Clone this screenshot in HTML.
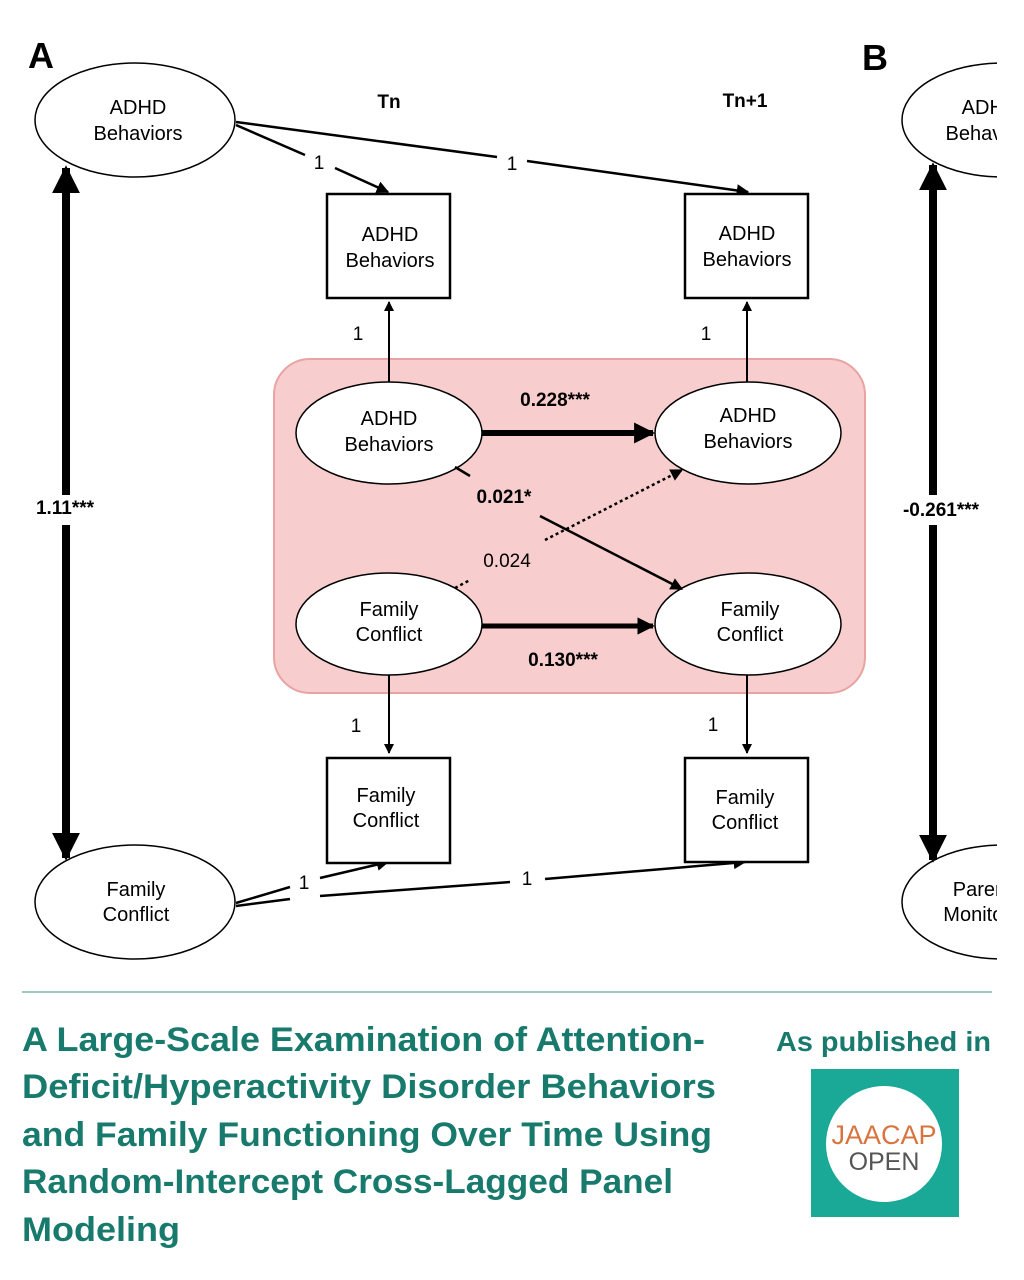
<!DOCTYPE html>
<html><head><meta charset="utf-8"><style>
html,body{margin:0;padding:0;background:#fff;width:1024px;height:1280px;overflow:hidden}
svg text{font-family:"Liberation Sans",Arial,sans-serif}
</style></head><body>
<svg width="1024" height="1280" viewBox="0 0 1024 1280" xmlns="http://www.w3.org/2000/svg">
<defs>
<marker id="b" viewBox="0 0 10 10" refX="9" refY="5" markerWidth="3.5" markerHeight="3.5" orient="auto" markerUnits="strokeWidth"><path d="M0,0 L10,5 L0,10 z" fill="#000"/></marker>
<marker id="c" viewBox="0 0 10 10" refX="9" refY="5" markerWidth="5" markerHeight="5" orient="auto" markerUnits="strokeWidth"><path d="M0,0 L10,5 L0,10 z" fill="#000"/></marker>
<clipPath id="clip"><rect x="0" y="0" width="997" height="980"/></clipPath>
</defs>
<g clip-path="url(#clip)" stroke="#000" fill="none">
<text x="28" y="68" font-size="36" font-weight="bold" fill="#000" stroke="none">A</text>
<text x="862" y="70" font-size="36" font-weight="bold" fill="#000" stroke="none">B</text>
<text x="389" y="108" font-size="19" font-weight="bold" text-anchor="middle" fill="#000" stroke="none">Tn</text>
<text x="745" y="107" font-size="19" font-weight="bold" text-anchor="middle" fill="#000" stroke="none">Tn+1</text>

<rect x="274" y="359" width="591" height="334" rx="36" fill="#f7cdcd" stroke="#e9a3a3" stroke-width="2"/>

<ellipse cx="135" cy="120" rx="100" ry="57" stroke-width="1.5" fill="#fff"/>
<ellipse cx="135" cy="902" rx="100" ry="57" stroke-width="1.5" fill="#fff"/>
<ellipse cx="1002" cy="120" rx="100" ry="57" stroke-width="1.5" fill="#fff"/>
<ellipse cx="1002" cy="902" rx="100" ry="57" stroke-width="1.5" fill="#fff"/>

<path d="M236,125 L305,155" stroke-width="2.5"/>
<path d="M335,168 L388,192" stroke-width="2.5" marker-end="url(#c)"/>
<path d="M236,122 L497,157" stroke-width="2.5"/>
<path d="M527,161 L748,192" stroke-width="2.5" marker-end="url(#c)"/>
<path d="M236,903 L290,887" stroke-width="2.5"/>
<path d="M320,878 L388,862" stroke-width="2.5" marker-end="url(#c)"/>
<path d="M236,906 L290,899" stroke-width="2.5"/>
<path d="M320,896 L510,882" stroke-width="2.5"/>
<path d="M545,879 L745,862" stroke-width="2.5" marker-end="url(#c)"/>

<rect x="327" y="194" width="123" height="104" stroke-width="2.5" fill="#fff"/>
<rect x="685" y="194" width="123" height="104" stroke-width="2.5" fill="#fff"/>
<rect x="327" y="758" width="123" height="105" stroke-width="2.5" fill="#fff"/>
<rect x="685" y="758" width="123" height="104" stroke-width="2.5" fill="#fff"/>

<path d="M389,383 L389,302" stroke-width="2" marker-end="url(#c)"/>
<path d="M747,383 L747,302" stroke-width="2" marker-end="url(#c)"/>
<path d="M389,672 L389,753" stroke-width="2" marker-end="url(#c)"/>
<path d="M747,672 L747,753" stroke-width="2" marker-end="url(#c)"/>

<path d="M66,495 L66,168" stroke-width="8" marker-end="url(#b)"/>
<path d="M66,525 L66,858" stroke-width="8" marker-end="url(#b)"/>
<path d="M933,495 L933,165" stroke-width="8" marker-end="url(#b)"/>
<path d="M933,525 L933,860" stroke-width="8" marker-end="url(#b)"/>

<ellipse cx="389" cy="433" rx="93" ry="51" stroke-width="1.5" fill="#fff"/>
<ellipse cx="748" cy="433" rx="93" ry="51" stroke-width="1.5" fill="#fff"/>
<ellipse cx="389" cy="624" rx="93" ry="51" stroke-width="1.5" fill="#fff"/>
<ellipse cx="748" cy="624" rx="93" ry="51" stroke-width="1.5" fill="#fff"/>

<path d="M482,433 L653,433" stroke-width="6" marker-end="url(#b)"/>
<path d="M482,626 L653,626" stroke-width="5" marker-end="url(#b)"/>
<path d="M455,467 L470,476" stroke-width="2.5"/>
<path d="M540,516 L682,589" stroke-width="2.5" marker-end="url(#c)"/>
<path d="M455,588 L470,580" stroke-width="2.5" stroke-dasharray="3,3"/>
<path d="M545,540 L682,470" stroke-width="2.5" stroke-dasharray="3,3" marker-end="url(#c)"/>
</g>

<g font-size="20" fill="#000" text-anchor="middle">
<text x="138" y="114">ADHD</text><text x="138" y="140">Behaviors</text>
<text x="136" y="896">Family</text><text x="136" y="921">Conflict</text>
<text x="990" y="114">ADHD</text><text x="990" y="140">Behaviors</text>
<text x="990" y="896">Parental</text><text x="990" y="921">Monitoring</text>
<text x="390" y="241">ADHD</text><text x="390" y="267">Behaviors</text>
<text x="747" y="240">ADHD</text><text x="747" y="266">Behaviors</text>
<text x="386" y="802">Family</text><text x="386" y="827">Conflict</text>
<text x="745" y="804">Family</text><text x="745" y="829">Conflict</text>
<text x="389" y="425">ADHD</text><text x="389" y="451">Behaviors</text>
<text x="748" y="422">ADHD</text><text x="748" y="448">Behaviors</text>
<text x="389" y="616">Family</text><text x="389" y="641">Conflict</text>
<text x="750" y="616">Family</text><text x="750" y="641">Conflict</text>
<text x="319" y="169" font-size="19">1</text>
<text x="512" y="170" font-size="19">1</text>
<text x="358" y="340" font-size="19">1</text>
<text x="706" y="340" font-size="19">1</text>
<text x="356" y="732" font-size="19">1</text>
<text x="713" y="731" font-size="19">1</text>
<text x="304" y="889" font-size="19">1</text>
<text x="527" y="885" font-size="19">1</text>
<text x="507" y="567" font-size="19">0.024</text>
<g font-weight="bold" font-size="19">
<text x="555" y="406">0.228***</text>
<text x="504" y="503">0.021*</text>
<text x="563" y="666">0.130***</text>
<text x="65" y="514">1.11***</text>
<text x="941" y="516">-0.261***</text>
</g>
</g>
<rect x="997" y="0" width="27" height="985" fill="#fff"/>

<line x1="22" y1="992" x2="992" y2="992" stroke="#7fb5ab" stroke-width="1.5"/>
<g font-family="'Liberation Sans',sans-serif" font-weight="bold" font-size="34" fill="#177a6c">
<text x="22" y="1051" textLength="683" lengthAdjust="spacingAndGlyphs">A Large-Scale Examination of Attention-</text>
<text x="22" y="1098" textLength="694" lengthAdjust="spacingAndGlyphs">Deficit/Hyperactivity Disorder Behaviors</text>
<text x="22" y="1146" textLength="690" lengthAdjust="spacingAndGlyphs">and Family Functioning Over Time Using</text>
<text x="22" y="1193" textLength="651" lengthAdjust="spacingAndGlyphs">Random-Intercept Cross-Lagged Panel</text>
<text x="22" y="1241" textLength="158" lengthAdjust="spacingAndGlyphs">Modeling</text>
<text x="776" y="1051" font-size="28" textLength="215" lengthAdjust="spacingAndGlyphs">As published in</text>
</g>
<rect x="811" y="1069" width="148" height="148" fill="#1aa897"/>
<circle cx="884" cy="1144" r="58" fill="#fff"/>
<text x="884" y="1144" font-size="27" text-anchor="middle" fill="#d9743f" font-family="'Liberation Sans',sans-serif">JAACAP</text>
<text x="884" y="1170" font-size="25" text-anchor="middle" fill="#555" font-family="'Liberation Sans',sans-serif">OPEN</text>
</svg>
</body></html>
